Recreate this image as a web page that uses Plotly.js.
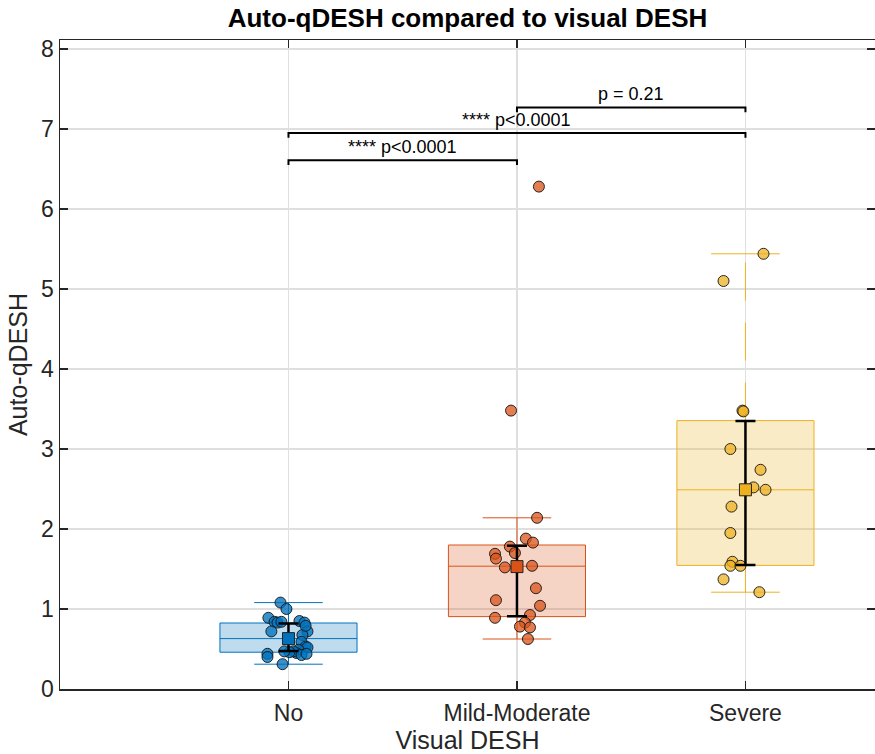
<!DOCTYPE html>
<html>
<head>
<meta charset="utf-8">
<script src="https://cdn.plot.ly/plotly-3.0.1.min.js"></script>
<style>html,body{margin:0;padding:0;background:#fff;}</style>
</head>
<body>
<div id="chart" style="width:875px;height:754px;"></div>
<script>
// ---- data ----
const categories = ['No', 'Mild-Moderate', 'Severe'];

const noValues = [1.08, 1.00, 0.89, 0.84, 0.83, 0.84, 0.72, 0.85, 0.83, 0.72, 0.675, 0.59, 0.53, 0.52, 0.49, 0.45, 0.47, 0.425, 0.46, 0.47, 0.44, 0.40, 0.31, 0.44, 0.79];
const noJitter = [-0.035, -0.009, -0.088, -0.061, -0.048, -0.031, -0.075, 0.048, 0.070, 0.083, 0.061, 0.057, 0.075, 0.083, 0.044, 0.035, 0.022, 0.057, 0.004, -0.018, -0.092, -0.092, -0.026, 0.079, 0.075];

const mildValues = [6.28, 3.48, 2.14, 1.88, 1.83, 1.78, 1.70, 1.69, 1.63, 1.52, 1.54, 1.26, 1.11, 1.04, 0.89, 0.925, 0.83, 0.78, 0.77, 0.625];
const mildJitter = [0.096, -0.026, 0.088, 0.039, 0.070, -0.031, -0.009, -0.096, -0.092, -0.053, 0.066, 0.083, -0.092, 0.101, -0.096, 0.057, 0.035, 0.013, 0.057, 0.048];

const severeValues = [5.44, 5.10, 3.48, 3.47, 3.00, 2.74, 2.52, 2.49, 2.28, 1.95, 1.59, 1.54, 1.54, 1.37, 1.21];
const severeJitter = [0.079, -0.096, -0.013, -0.009, -0.066, 0.066, 0.035, 0.088, -0.061, -0.066, -0.057, -0.066, -0.022, -0.096, 0.061];

const boxQ1 = [0.46, 0.905, 1.545];
const boxMedian = [0.63, 1.535, 2.49];
const boxQ3 = [0.825, 1.80, 3.355];
const whiskerLow = [0.31, 0.625, 1.21];
const whiskerHigh = [1.08, 2.14, 5.44];

const means = [0.63, 1.53, 2.49];
const errLow = [0.475, 0.91, 1.55];
const errHigh = [0.82, 1.79, 3.35];

const comparePairs = [[1, 2], [1, 3], [2, 3]];
const compareLevels = [6.61, 6.95, 7.27];
const compareLabels = ['**** p&lt;0.0001', '**** p&lt;0.0001', 'p = 0.21'];

// ---- styles ----
const groupColors = ['rgb(0,114,189)', 'rgb(217,83,25)', 'rgb(237,177,32)'];
const boxFills = ['rgba(0,114,189,0.25)', 'rgba(217,83,25,0.25)', 'rgba(237,177,32,0.25)'];
const pointFills = ['rgba(0,114,189,0.78)', 'rgba(217,83,25,0.75)', 'rgba(237,177,32,0.75)'];
const groupValues = [noValues, mildValues, severeValues];
const groupJitter = [noJitter, mildJitter, severeJitter];
const boxHalf = 0.3, capHalf = 0.15;

const traces = [];
for (let g = 0; g < 3; g++) {
  const c = g + 1;
  traces.push({
    x: [c - boxHalf, c + boxHalf, c + boxHalf, c - boxHalf, c - boxHalf],
    y: [boxQ1[g], boxQ1[g], boxQ3[g], boxQ3[g], boxQ1[g]],
    mode: 'lines', fill: 'toself', fillcolor: boxFills[g],
    line: {color: groupColors[g], width: 1}, hoverinfo: 'skip', showlegend: false
  });
  traces.push({
    x: [c - boxHalf, c + boxHalf], y: [boxMedian[g], boxMedian[g]],
    mode: 'lines', line: {color: groupColors[g], width: 1}, hoverinfo: 'skip', showlegend: false
  });
  traces.push({
    x: [c, c], y: [boxQ3[g], whiskerHigh[g]], mode: 'lines',
    line: {color: groupColors[g], width: 1, dash: '38px,22px'}, hoverinfo: 'skip', showlegend: false
  });
  traces.push({
    x: [c, c], y: [boxQ1[g], whiskerLow[g]], mode: 'lines',
    line: {color: groupColors[g], width: 1, dash: '38px,22px'}, hoverinfo: 'skip', showlegend: false
  });
  traces.push({
    x: [c - capHalf, c + capHalf, null, c - capHalf, c + capHalf],
    y: [whiskerHigh[g], whiskerHigh[g], null, whiskerLow[g], whiskerLow[g]],
    mode: 'lines', line: {color: groupColors[g], width: 1}, hoverinfo: 'skip', showlegend: false
  });
}
for (let g = 0; g < 3; g++) {
  const c = g + 1;
  traces.push({
    x: groupJitter[g].map(j => c + j), y: groupValues[g],
    mode: 'markers', type: 'scatter', name: categories[g],
    marker: {size: 11, color: pointFills[g], line: {color: 'rgba(20,20,20,0.9)', width: 1}},
    showlegend: false
  });
}
traces.push({
  x: [1, 2, 3], y: means, mode: 'markers', type: 'scatter',
  marker: {symbol: 'square', size: 12, color: groupColors, line: {color: '#222', width: 1}},
  error_y: {type: 'data', symmetric: false,
    array: means.map((m, i) => errHigh[i] - m),
    arrayminus: means.map((m, i) => m - errLow[i]),
    color: '#000', thickness: 2.5, width: 10},
  showlegend: false
});
const tickDrop = 0.06;
const annotations = [];
comparePairs.forEach((p, i) => {
  const lv = compareLevels[i];
  traces.push({
    x: [p[0], p[0], p[1], p[1]], y: [lv - tickDrop, lv, lv, lv - tickDrop],
    mode: 'lines', line: {color: '#000', width: 2}, hoverinfo: 'skip', showlegend: false
  });
  annotations.push({
    x: (p[0] + p[1]) / 2, y: lv, xref: 'x', yref: 'y', text: compareLabels[i],
    showarrow: false, yanchor: 'bottom', yshift: 1,
    font: {size: 18, color: '#000', family: 'Liberation Sans, Arial, sans-serif'}
  });
});

const axisCommon = {
  showline: true, linecolor: '#262626', linewidth: 1.5, mirror: 'ticks',
  ticks: 'inside', ticklen: 8, tickwidth: 1.5, tickcolor: '#262626',
  showgrid: true, gridcolor: 'rgb(223,223,223)', gridwidth: 1.5,
  zeroline: false, tickfont: {size: 23, color: '#262626'}
};

const layout = {
  width: 875, height: 754,
  margin: {l: 60, r: 0, t: 40, b: 65},
  paper_bgcolor: '#fff', plot_bgcolor: '#fff',
  font: {family: 'Liberation Sans, Arial, sans-serif', color: '#262626'},
  title: {text: '<b>Auto-qDESH compared to visual DESH</b>', font: {size: 26, color: '#000'},
    x: 0.5, xref: 'paper', xanchor: 'center', y: 1 - 18 / 754, yref: 'container', yanchor: 'middle'},
  xaxis: Object.assign({}, axisCommon, {
    range: [0, 3.567], tickvals: [1, 2, 3], ticktext: categories, ticklabelstandoff: 3,
    title: {text: 'Visual DESH', font: {size: 25, color: '#262626'}, standoff: 9}
  }),
  yaxis: Object.assign({}, axisCommon, {
    range: [0, 8.1125], tickvals: [0, 1, 2, 3, 4, 5, 6, 7, 8],
    title: {text: 'Auto-qDESH', font: {size: 25, color: '#262626'}, standoff: 6}
  }),
  annotations: annotations,
  showlegend: false
};

Plotly.newPlot('chart', traces, layout, {displayModeBar: false, staticPlot: true});
</script>
</body>
</html>
